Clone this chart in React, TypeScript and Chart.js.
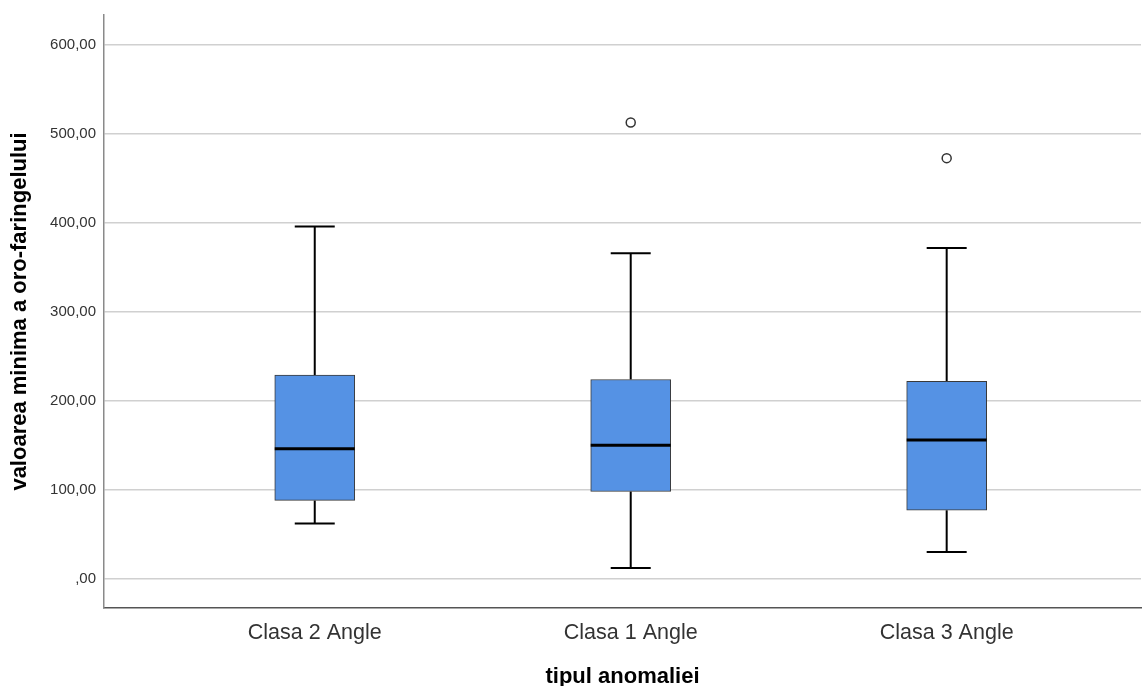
import React, { useEffect, useRef } from "react";
import { Chart, registerables } from "chart.js";

Chart.register(...registerables);

const categories = ["Clasa 2 Angle", "Clasa 1 Angle", "Clasa 3 Angle"];
const whiskerLow = [62, 12, 30];
const q1Values = [88, 98, 77];
const medians = [146, 150, 156];
const q3Values = [229, 224, 222];
const whiskerHigh = [396, 366, 372];
const outlierCategory = [2, 3];
const outlierValues = [513, 473];
const yTicks = [0, 100, 200, 300, 400, 500, 600];

const fmt = (v: number) => (v === 0 ? ",00" : v.toFixed(2).replace(".", ","));

const boxPlugin = {
  id: "boxWhiskers",
  beforeDatasetsDraw(chart: any) {
    const { ctx, scales } = chart;
    const xs = scales.x;
    const ys = scales.y;
    const bars = chart.getDatasetMeta(0).data;
    ctx.save();
    ctx.strokeStyle = "#000";
    ctx.lineWidth = 2;
    categories.forEach((_, i) => {
      const cx = xs.getPixelForValue(i + 1);
      const capHalf = bars[i] ? bars[i].width / 4 : 20;
      const pairs = [
        [q3Values[i], whiskerHigh[i]],
        [q1Values[i], whiskerLow[i]],
      ];
      pairs.forEach(([a, b]) => {
        const ya = ys.getPixelForValue(a);
        const yb = ys.getPixelForValue(b);
        ctx.beginPath();
        ctx.moveTo(cx, ya);
        ctx.lineTo(cx, yb);
        ctx.moveTo(cx - capHalf, yb);
        ctx.lineTo(cx + capHalf, yb);
        ctx.stroke();
      });
    });
    ctx.restore();
  },
  afterDatasetsDraw(chart: any) {
    const { ctx, scales } = chart;
    const xs = scales.x;
    const ys = scales.y;
    const bars = chart.getDatasetMeta(0).data;
    ctx.save();
    ctx.strokeStyle = "#000";
    ctx.lineWidth = 3;
    categories.forEach((_, i) => {
      const cx = xs.getPixelForValue(i + 1);
      const half = bars[i] ? bars[i].width / 2 : 40;
      const y = ys.getPixelForValue(medians[i]);
      ctx.beginPath();
      ctx.moveTo(cx - half, y);
      ctx.lineTo(cx + half, y);
      ctx.stroke();
    });
    ctx.restore();
  },
};

export default function App() {
  const ref = useRef<HTMLCanvasElement>(null);
  useEffect(() => {
    if (!ref.current) return;
    const chart = new Chart(ref.current, {
      type: "bar",
      data: {
        datasets: [
          {
            type: "bar",
            data: categories.map((_, i) => ({ x: i + 1, y: [q1Values[i], q3Values[i]] })) as any,
            backgroundColor: "#5592E4",
            borderColor: "#3a3a3a",
            borderWidth: 1,
            borderSkipped: false,
            barThickness: 80,
          } as any,
          {
            type: "scatter",
            data: outlierCategory.map((c, i) => ({ x: c, y: outlierValues[i] })),
            pointStyle: "circle",
            pointRadius: 4.5,
            pointBackgroundColor: "#fff",
            pointBorderColor: "#333",
            pointBorderWidth: 1.5,
          } as any,
        ],
      },
      options: {
        animation: false,
        responsive: false,
        maintainAspectRatio: false,
        layout: { padding: { top: 15, right: 0, left: 0, bottom: 0 } },
        plugins: { legend: { display: false }, tooltip: { enabled: false } },
        scales: {
          x: {
            type: "linear",
            offset: false,
            min: 0.333,
            max: 3.615,
            afterBuildTicks: (s: any) => {
              s.ticks = categories.map((_, i) => ({ value: i + 1 }));
            },
            afterFit: (s: any) => {
              s.height = 78;
              s.paddingLeft = 0;
              s.paddingRight = 0;
            },
            grid: { display: false },
            border: { display: true, color: "#555", width: 1.5 },
            ticks: {
              color: "#333",
              font: { family: "Liberation Sans", size: 21.5 },
              padding: 4,
              maxRotation: 0,
              callback: (v: any) => categories[Number(v) - 1] ?? "",
            },
            title: {
              display: true,
              text: "tipul anomaliei",
              color: "#000",
              font: { family: "Liberation Sans", size: 22, weight: "bold", lineHeight: 1 },
              padding: { top: 4, bottom: -2 },
            },
          },
          y: {
            type: "linear",
            min: -33,
            max: 634,
            afterBuildTicks: (s: any) => {
              s.ticks = yTicks.map((v) => ({ value: v }));
            },
            afterFit: (s: any) => {
              s.width = 104;
              s.paddingTop = 0;
              s.paddingBottom = 0;
            },
            grid: { color: "#d0d0d0", lineWidth: 1.5, drawTicks: false },
            border: { display: true, color: "#8a8a8a", width: 1.5 },
            ticks: {
              color: "#333",
              font: { family: "Liberation Sans", size: 15 },
              padding: 8,
              callback: (v: any) => fmt(Number(v)),
            },
            title: {
              display: true,
              text: "valoarea minima a oro-faringelului",
              color: "#000",
              font: { family: "Liberation Sans", size: 22, weight: "bold" },
              padding: { top: 7, bottom: 4 },
            },
          },
        },
      },
      plugins: [boxPlugin],
    } as any);
    return () => chart.destroy();
  }, []);
  return (
    <div style={{ position: "fixed", left: 0, top: 0, width: 1147, height: 686, background: "#fff" }}>
      <canvas ref={ref} width={1147} height={686} style={{ width: 1147, height: 686 }} />
    </div>
  );
}
